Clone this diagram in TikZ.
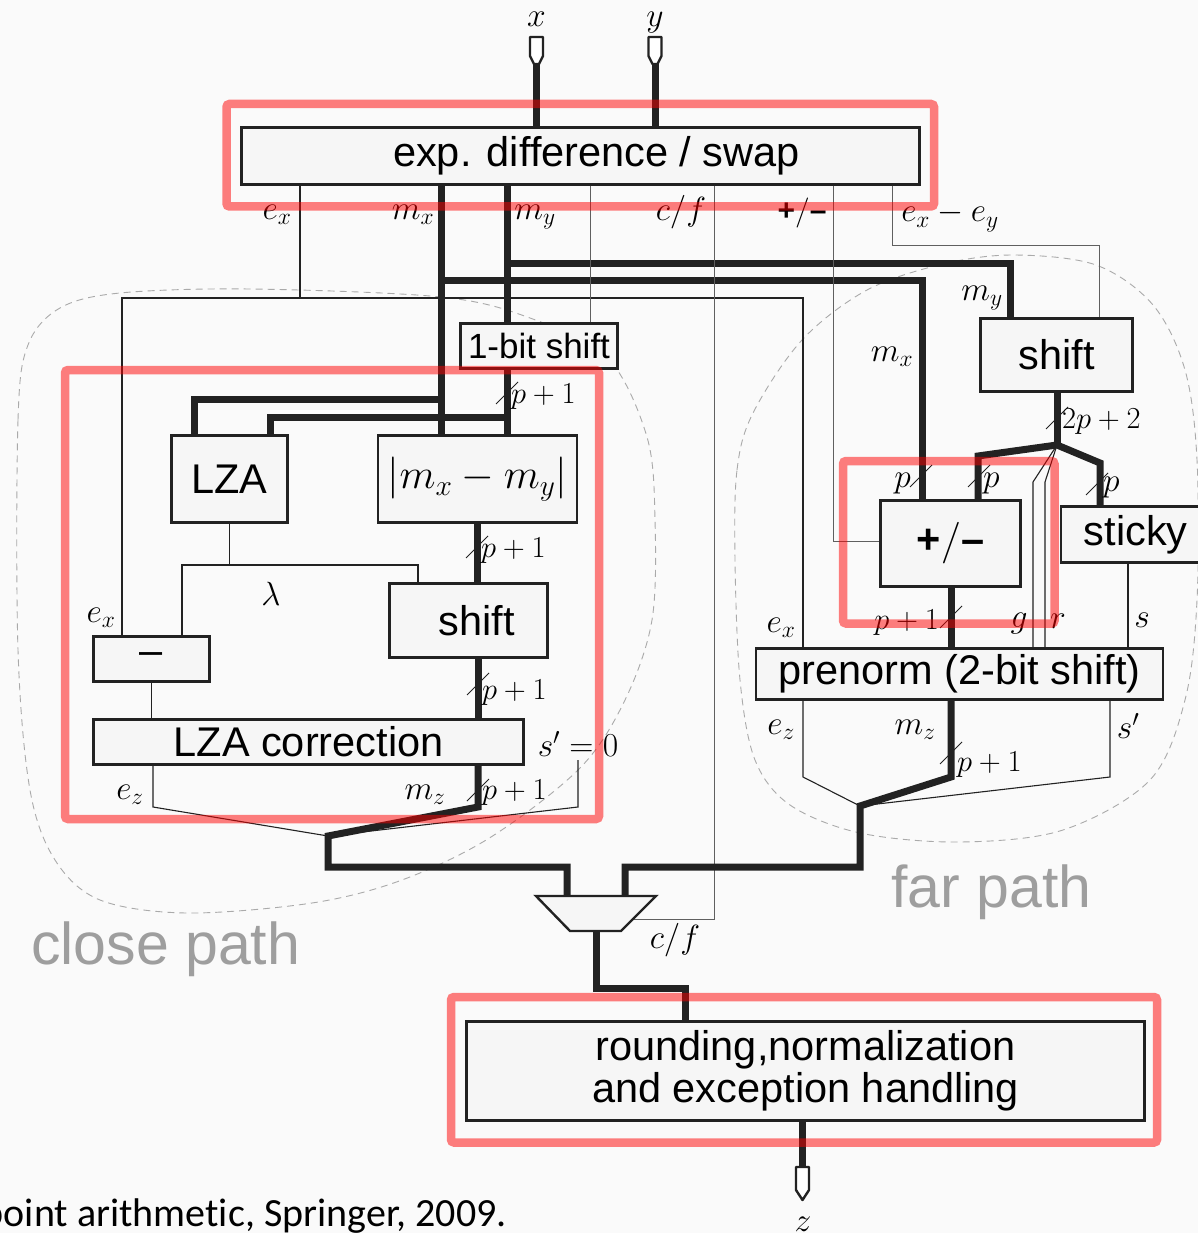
\RequirePackage{fix-cm}
\documentclass[tikz,border=0pt]{standalone}
\usepackage[no-math]{fontspec}
\newfontfamily\sansfam{Liberation Sans}
\newfontfamily\notefam[Ligatures=NoCommon]{Carlito}
\definecolor{ink}{RGB}{34,34,34}
\definecolor{boxfill}{RGB}{246,246,246}
\definecolor{paper}{RGB}{250,250,250}
\definecolor{regiongray}{RGB}{170,170,170}
\definecolor{titlegray}{RGB}{158,158,158}
\definecolor{wire}{RGB}{95,95,95}
\tikzset{
  blk/.style={draw=ink, line width=2.4pt, fill=boxfill, inner sep=0pt,
    font=\sansfam\fontsize{41.5}{48}\selectfont, text=black},
  bus/.style={draw=ink, line width=7pt},
  sig/.style={draw=ink, line width=1.1pt},
  ctl/.style={draw=wire, line width=0.9pt},
  lbl/.style={inner sep=0pt, font=\fontsize{33.5}{40}\selectfont},
  wl/.style={inner sep=0pt, font=\fontsize{30.5}{36}\selectfont},
  tick/.style={draw=ink, line width=0.8pt},
  region/.style={draw=regiongray, line width=0.9pt, dash pattern=on 7pt off 5pt},
  hilite/.style={draw=red, draw opacity=0.5, line width=8.5pt, rounded corners=3pt},
  port/.style={draw=ink, line width=2.4pt, fill=white, line join=round},
  pathname/.style={inner sep=0pt, text=titlegray, font=\sansfam\fontsize{59}{66}\selectfont},
  bw/.pic={\draw[tick] (-11,11) -- (11,-11);}
}
\begin{document}
\begin{tikzpicture}[x=1pt,y=-1pt]
\useasboundingbox (0,0) rectangle (1198,1233);
\fill[paper] (0,0) rectangle (1198,1233);

% dashed outlines of the two data paths
\draw[region] plot[smooth cycle, tension=0.55] coordinates {
  (18,650) (18,420) (28,345) (60,308) (120,293) (250,289) (441,297)
  (530,318) (607,357) (647,437) (655,520) (652,620) (625,700) (580,768)
  (491,837) (402,880) (312,903) (187,913) (100,900) (55,860) (30,790)};
\draw[region] plot[smooth cycle, tension=0.55] coordinates {
  (735,560) (737,470) (753,413) (802,340) (867,290) (943,264) (1014,255)
  (1096,265) (1153,305) (1185,370) (1197,460) (1197,600) (1185,700)
  (1150,780) (1063,830) (960,842) (860,833) (790,805) (755,760) (740,680)};

% blocks
\node[blk, minimum width=678pt, minimum height=57pt] (expd) at (580.5,156) {\hspace*{32pt}exp. difference / swap};
\node[blk, minimum width=157pt, minimum height=45pt, font=\sansfam\fontsize{35}{40}\selectfont] (onebit) at (539,346) {1-bit shift};
\node[blk, minimum width=116pt, minimum height=87pt] (lza) at (229.5,479) {LZA};
\node[blk, minimum width=199pt, minimum height=87pt, font=\fontsize{42}{48}\selectfont] (absd) at (477.5,479) {$|m_x-m_y|$};
\node[blk, minimum width=158pt, minimum height=74pt] (shiftc) at (468.5,620.5) {\hspace*{17pt}shift};
\node[blk, minimum width=116pt, minimum height=45pt] (minus) at (151.5,659) {–};
\node[blk, minimum width=430pt, minimum height=45pt] (lzac) at (308.5,742) {LZA correction};
\node[blk, minimum width=152pt, minimum height=73pt] (shiftf) at (1056.5,355) {shift};
\node[blk, minimum width=140pt, minimum height=86pt] (addsub) at (950.5,543.5) {{\bfseries +}$/${\bfseries –}};
\node[blk, minimum width=162pt, minimum height=56pt, anchor=west] (sticky) at (1059.5,534.5) {sticky\hspace*{12pt}};
\node[blk, minimum width=407pt, minimum height=51pt] (prenorm) at (959.5,674) {prenorm (2-bit shift)};
\node[blk, minimum width=678pt, minimum height=99pt, align=center, font=\sansfam\fontsize{41.5}{42}\selectfont] (round) at (805.5,1071) {rounding,normalization\\and exception handling};

% input and output ports
\coordinate (xport) at (536.5,64);
\coordinate (yport) at (655,64);
\coordinate (zport) at (802.5,1167);
\draw[bus] (xport) -- (xport |- expd.north);
\draw[bus] (yport) -- (yport |- expd.north);
\draw[port, shift={(xport)}] (-6.5,-27) -- (6.5,-27) -- (6.5,-8) -- (2.5,0) -- (-2.5,0) -- (-6.5,-8) -- cycle;
\draw[port, shift={(yport)}] (-6.5,-27) -- (6.5,-27) -- (6.5,-8) -- (2.5,0) -- (-2.5,0) -- (-6.5,-8) -- cycle;

% exponent e_x to both paths
\coordinate (jEx) at (300,298);
\coordinate (jExL) at (122,298);
\coordinate (jExR) at (803,298);
\draw[sig] (expd.south -| jEx) -- (jEx);
\draw[sig] (minus.north -| jExL) -- (jExL) -- (jExR) -- (prenorm.north -| jExR);

% mantissa m_x
\coordinate (jMxF) at (441,280);
\coordinate (jMxL) at (441,399);
\coordinate (tMxF) at (922,280);
\coordinate (tMxL) at (194,399);
\draw[bus] (expd.south -| jMxF) -- (absd.north -| jMxF);
\draw[bus] (jMxF) -- (tMxF) -- (addsub.north -| tMxF);
\draw[bus] (jMxL) -- (tMxL) -- (lza.north -| tMxL);

% mantissa m_y
\coordinate (jMyF) at (507,263);
\coordinate (tMyF) at (1010,263);
\coordinate (jMyL) at (507,417);
\coordinate (tMyL) at (270,417);
\draw[bus] (expd.south -| jMyF) -- (onebit.north -| jMyF);
\draw[bus] (jMyF) -- (tMyF) -- (shiftf.north -| tMyF);
\draw[bus] (onebit.south -| jMyL) -- (absd.north -| jMyL);
\draw[bus] (jMyL) -- (tMyL) -- (lza.north -| tMyL);

% control signals
\coordinate (cOne) at (590,300);
\coordinate (cCf) at (714,919);
\coordinate (muxIn) at (634,919);
\coordinate (cOp) at (833,541);
\coordinate (cEd) at (892,245);
\coordinate (cEd2) at (1099,245);
\draw[ctl] (expd.south -| cOne) -- (onebit.north -| cOne);
\draw[ctl] (expd.south -| cCf) -- (cCf) -- (muxIn);
\draw[ctl] (expd.south -| cOp) -- (cOp) -- (addsub.west |- cOp);
\draw[ctl] (expd.south -| cEd) -- (cEd) -- (cEd2) -- (shiftf.north -| cEd2);

% close path
\coordinate (jLam) at (229.5,565);
\coordinate (lamL) at (182,565);
\coordinate (lamR) at (418,565);
\draw[sig] (lza.south) -- (jLam);
\draw[sig] (minus.north -| lamL) -- (lamL) -- (lamR) -- (shiftc.north -| lamR);
\draw[bus] (absd.south) -- (shiftc.north -| absd.south);
\coordinate (cMz) at (478,807);
\draw[bus] (shiftc.south -| cMz) -- (lzac.north -| cMz);
\draw[sig] (minus.south) -- (lzac.north -| minus.south);
\coordinate (cEz) at (153,807);
\coordinate (cMerge) at (328,836);
\coordinate (cS0t) at (578,760);
\coordinate (cS0) at (578,807);
\coordinate (cLow) at (328,867);
\coordinate (cIn) at (567,867);
\coordinate (muxA) at (567,896);
\draw[sig] (lzac.south -| cEz) -- (cEz) -- (cMerge);
\draw[sig] (cS0t) -- (cS0) -- (cMerge);
\draw[bus] (lzac.south -| cMz) -- (cMz) -- (cMerge) -- (cLow) -- (cIn) -- (muxA);

% far path
\coordinate (fB) at (1057,445);
\coordinate (fL) at (978,456);
\coordinate (fR) at (1100,463);
\coordinate (fg) at (1033,482);
\coordinate (fr) at (1045,482);
\draw[bus] (shiftf.south -| fB) -- (fB);
\draw[bus] (addsub.north -| fL) -- (fL) -- (fB) -- (fR) -- (sticky.north -| fR);
\draw[sig] (fB) -- (fg) -- (prenorm.north -| fg);
\draw[sig] (fB) -- (fr) -- (prenorm.north -| fr);
\coordinate (fM) at (951,777);
\coordinate (fS) at (1128,600);
\coordinate (fEz) at (803,777);
\coordinate (fSp) at (1110,777);
\coordinate (fMerge) at (860,806);
\coordinate (fLow) at (860,867);
\coordinate (fIn) at (625,867);
\coordinate (muxB) at (625,896);
\draw[bus] (addsub.south -| fM) -- (prenorm.north -| fM);
\draw[sig] (sticky.south -| fS) -- (prenorm.north -| fS);
\draw[sig] (prenorm.south -| fEz) -- (fEz) -- (fMerge);
\draw[sig] (prenorm.south -| fSp) -- (fSp) -- (fMerge);
\draw[bus] (prenorm.south -| fM) -- (fM) -- (fMerge) -- (fLow) -- (fIn) -- (muxB);

% multiplexer and final stage
\coordinate (muxO) at (596,931);
\coordinate (oA) at (596,988);
\coordinate (oB) at (685,988);
\draw[bus] (muxO) -- (oA) -- (oB) -- (round.north -| oB);
\draw[draw=ink, line width=2.4pt, fill=boxfill] (536,896) -- (656,896) -- (621,931) -- (570,931) -- cycle;
\draw[bus] (round.south -| zport) -- (zport);
\draw[port, shift={(zport)}] (-6.5,0) -- (6.5,0) -- (6.5,23) -- (0,33) -- (-6.5,23) -- cycle;

% bus width marks
\pic at (507,393) {bw};
\pic at (477,547) {bw};
\pic at (478,684) {bw};
\pic at (478,790) {bw};
\pic at (1057,418) {bw};
\pic at (921,476) {bw};
\pic at (979,476) {bw};
\pic at (1097,484) {bw};
\pic at (951,617) {bw};
\pic at (951,753) {bw};
\node[wl, anchor=west] (w1) at (511,397) {$p+1$};
\node[wl, anchor=west] (w2) at (481,551) {$p+1$};
\node[wl, anchor=west] (w3) at (482,693) {$p+1$};
\node[wl, anchor=west] (w4) at (482,793) {$p+1$};
\node[wl, anchor=west] (w5) at (1062,422) {$2p+2$};
\node[lbl, anchor=east] (w6) at (911,484) {$p$};
\node[lbl, anchor=west] (w7) at (983,484) {$p$};
\node[lbl, anchor=west] (w8) at (1103,488) {$p$};
\node[wl, anchor=east] (w9) at (939,623) {$p+1$};
\node[wl, anchor=west] (w10) at (957,765) {$p+1$};

% signal names
\node[lbl] (lx) at (536.5,19) {$x$};
\node[lbl] (ly) at (655,23) {$y$};
\node[lbl] (lz) at (803,1224) {$z$};
\node[lbl] (l1) at (277,215) {$e_x$};
\node[lbl] (l2) at (413,215) {$m_x$};
\node[lbl] (l3) at (535,217) {$m_y$};
\node[lbl] (l4) at (681,212) {$c/f$};
\node[lbl, font=\sansfam\bfseries\fontsize{30}{36}\selectfont] (l5) at (802,213) {+$/$–};
\node[lbl] (l6) at (950,217) {$e_x-e_y$};
\node[lbl] (l7) at (982,298) {$m_y$};
\node[lbl] (l8) at (892,357) {$m_x$};
\node[lbl] (l9) at (271,594) {$\lambda$};
\node[lbl] (l10) at (101,618) {$e_x$};
\node[lbl] (l11) at (130,795) {$e_z$};
\node[lbl] (l12) at (425,795) {$m_z$};
\node[lbl] (l13) at (578,744) {$s'=0$};
\node[lbl] (l14) at (781,628) {$e_x$};
\node[lbl] (l15) at (1019,624) {$g$};
\node[lbl] (l16) at (1058,621) {$r$};
\node[lbl] (l17) at (1142,620) {$s$};
\node[lbl] (l18) at (781,730) {$e_z$};
\node[lbl] (l19) at (915,730) {$m_z$};
\node[lbl] (l20) at (1128,726) {$s'$};
\node[lbl] (l21) at (675,940) {$c/f$};

% path names and citation
\node[pathname, anchor=base west] (closename) at (31,964) {close path};
\node[pathname, anchor=base west] (farname) at (891,907) {far path};
\node[inner sep=0pt, anchor=base east, font=\notefam\fontsize{40}{46}\selectfont] (cite) at (507,1226) {point arithmetic, Springer, 2009.};

% highlighted stages
\draw[hilite] (226.5,104) rectangle (934,206.5);
\draw[hilite] (65,370) rectangle (599,819);
\draw[hilite] (843,461) rectangle (1054.5,623.5);
\draw[hilite] (451,997) rectangle (1157,1142.5);
\end{tikzpicture}
\end{document}
